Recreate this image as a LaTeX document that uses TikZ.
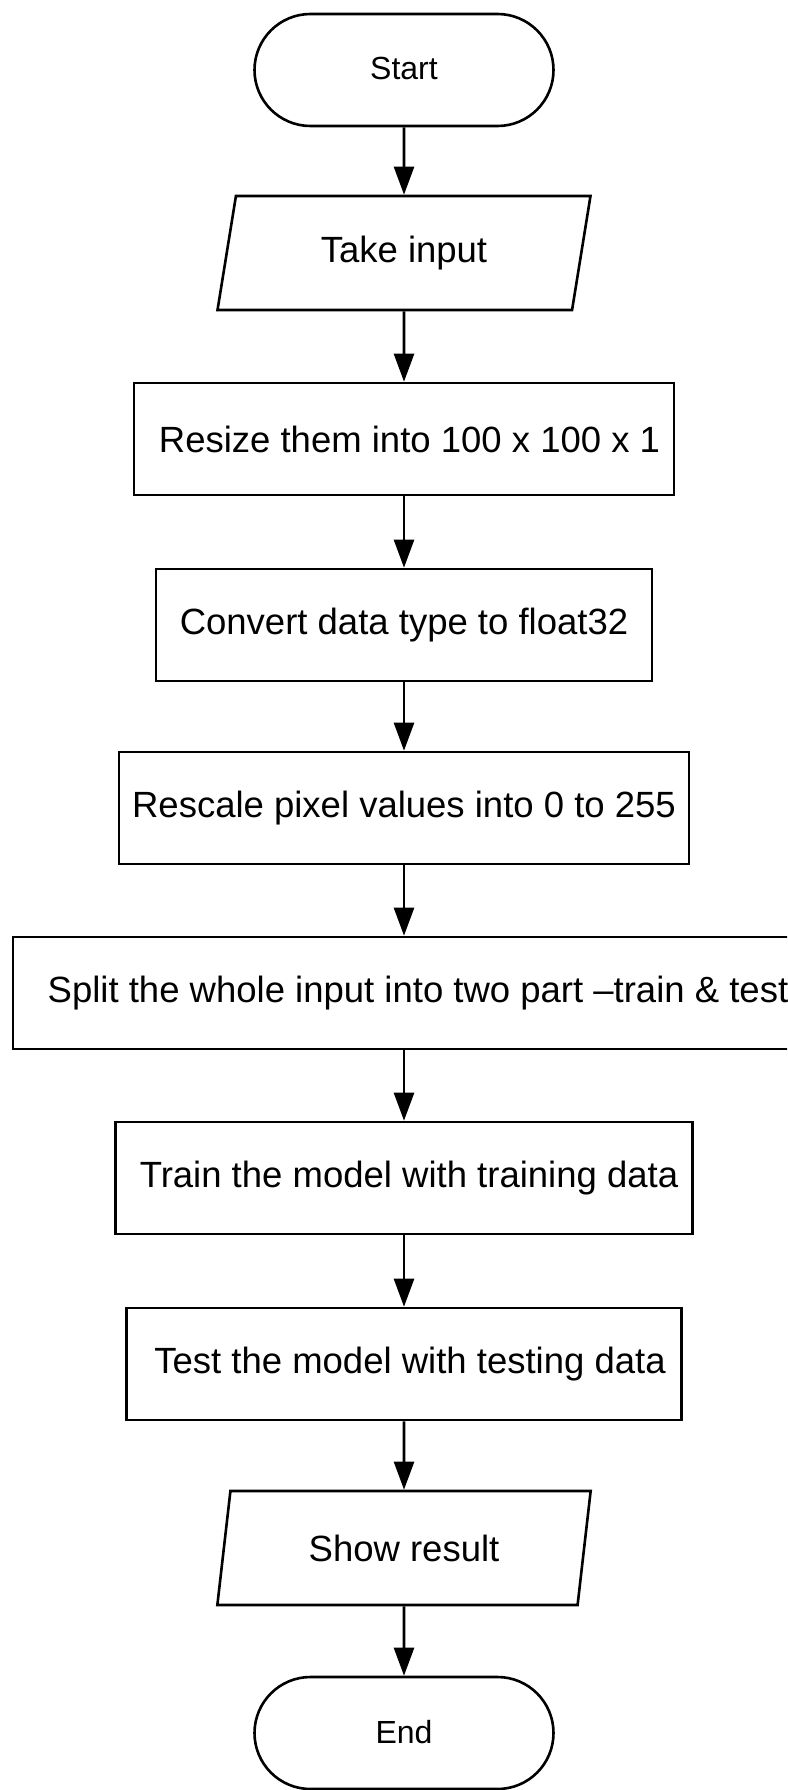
\documentclass[tikz,border=0pt]{standalone}
\usepackage{fontspec}
\setmainfont{Liberation Sans}
\usetikzlibrary{shapes.geometric,arrows.meta}
\begin{document}
\begin{tikzpicture}[x=1pt,y=-1pt,
  base/.style={draw=black,line width=2.6pt,align=center,inner sep=0pt,
    font=\fontsize{36.5}{42}\selectfont},
  term/.style={base,rectangle,rounded corners=56pt,minimum width=299pt,minimum height=112pt,
    font=\fontsize{32}{38}\selectfont},
  io/.style={base,trapezium,trapezium left angle=75,trapezium right angle=105,
    trapezium stretches=true,minimum width=374pt,minimum height=114pt},
  proc/.style={base,rectangle,minimum height=112pt},
  flow/.style={line width=2.6pt,-{Triangle[length=28pt,width=20pt]}}
]
\path[use as bounding box] (0,0) rectangle (787,1790);
\clip (0,0) rectangle (787,1790);

\node[term] (start) at (404,70) {\raisebox{4pt}{Start}};
\node[io] (input) at (404,253) {Take input};
\node[proc,minimum width=540pt] (resize) at (404,439) {\hspace*{11pt}Resize them into 100 x 100 x 1};
\node[proc,minimum width=496pt] (convert) at (404,625) {Convert data type to float32};
\node[proc,minimum width=570pt] (rescale) at (404,808) {Rescale pixel values into 0 to 255};
\node[proc,minimum width=810pt] (split) at (418,993) {Split the whole input into two part –train \& test};
\node[proc,minimum width=577pt] (train) at (404,1178) {\hspace*{10pt}Train the model with training data};
\node[proc,minimum width=555pt] (test) at (404,1364) {\hspace*{12pt}Test the model with testing data};
\node[io] (show) at (404,1548) {Show result};
\node[term] (end) at (404,1733) {\raisebox{3pt}{End}};

\draw[flow] (start.south) -- (input.north);
\draw[flow] (input.south) -- (resize.north);
\draw[flow] (resize.south) -- (convert.north);
\draw[flow] (convert.south) -- (rescale.north);
\draw[flow] (rescale.south) -- (rescale.south |- split.north);
\draw[flow] (rescale.south |- split.south) -- (train.north);
\draw[flow] (train.south) -- (test.north);
\draw[flow] (test.south) -- (show.north);
\draw[flow] (show.south) -- (end.north);
\end{tikzpicture}
\end{document}
